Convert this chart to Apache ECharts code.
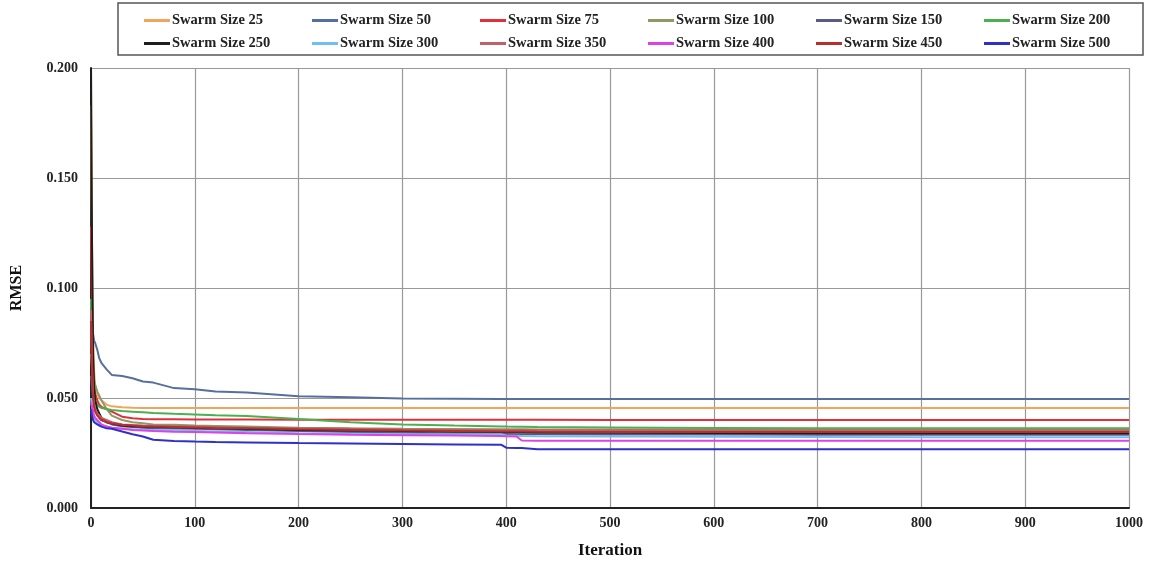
<!DOCTYPE html>
<html>
<head>
<meta charset="utf-8">
<script src="https://cdn.jsdelivr.net/npm/echarts@6/dist/echarts.min.js"></script>
<style>
    html, body {margin: 0; padding: 0; background: #fff;}
    #chart {width: 1151px; height: 564px;}
</style>
</head>
<body>
<div id="chart"></div>
<script>
// iterations shared by every series
const iterations = [0, 1, 2, 3, 4, 6, 8, 10, 15, 20, 30, 40, 50, 60, 80, 100, 120, 150, 200, 250, 300, 350, 395, 400, 410, 415, 430, 500, 600, 700, 800, 900, 1000]

const swarm25 = [0.183, 0.12, 0.08, 0.062, 0.056, 0.052, 0.050, 0.049, 0.047, 0.0462, 0.0458, 0.0456, 0.0455, 0.0455, 0.0455, 0.0455, 0.0455, 0.0455, 0.0455, 0.0455, 0.0455, 0.0455, 0.0455, 0.0455, 0.0455, 0.0455, 0.0455, 0.0455, 0.0454, 0.0454, 0.0454, 0.0454, 0.0454]
const swarm50 = [0.095, 0.085, 0.079, 0.076, 0.075, 0.072, 0.068, 0.066, 0.063, 0.0605, 0.060, 0.059, 0.0575, 0.057, 0.0545, 0.054, 0.053, 0.0525, 0.0508, 0.0503, 0.0498, 0.0497, 0.0496, 0.0496, 0.0496, 0.0496, 0.0496, 0.0496, 0.0496, 0.0496, 0.0496, 0.0496, 0.0496]
const swarm75 = [0.128, 0.09, 0.065, 0.055, 0.052, 0.049, 0.047, 0.046, 0.045, 0.0438, 0.0415, 0.0408, 0.0405, 0.0403, 0.0403, 0.0402, 0.0402, 0.0402, 0.0401, 0.0401, 0.0401, 0.0401, 0.0401, 0.0401, 0.0401, 0.0401, 0.0401, 0.0400, 0.0400, 0.0400, 0.0400, 0.0400, 0.0400]
const swarm100 = [0.07, 0.064, 0.060, 0.058, 0.056, 0.053, 0.051, 0.049, 0.045, 0.042, 0.040, 0.039, 0.0385, 0.038, 0.0378, 0.0375, 0.0373, 0.037, 0.0365, 0.0362, 0.036, 0.0359, 0.0358, 0.0358, 0.0358, 0.0358, 0.0357, 0.0357, 0.0357, 0.0356, 0.0356, 0.0356, 0.0356]
const swarm150 = [0.06, 0.055, 0.05, 0.047, 0.045, 0.043, 0.041, 0.040, 0.039, 0.038, 0.0372, 0.0368, 0.0365, 0.0363, 0.0361, 0.036, 0.0358, 0.0355, 0.035, 0.0346, 0.0342, 0.0339, 0.0336, 0.0336, 0.0335, 0.0335, 0.0335, 0.0334, 0.0334, 0.0333, 0.0333, 0.0333, 0.0333]
const swarm200 = [0.095, 0.07, 0.058, 0.052, 0.049, 0.047, 0.046, 0.0455, 0.045, 0.0445, 0.0441, 0.0438, 0.0435, 0.0432, 0.0428, 0.0425, 0.0422, 0.0418, 0.0405, 0.039, 0.038, 0.0375, 0.0371, 0.037, 0.0369, 0.0369, 0.0368, 0.0366, 0.0364, 0.0363, 0.0362, 0.0362, 0.0362]
const swarm250 = [0.2, 0.12, 0.07, 0.055, 0.049, 0.045, 0.043, 0.041, 0.039, 0.0385, 0.0375, 0.0372, 0.037, 0.0369, 0.0367, 0.0365, 0.0363, 0.036, 0.0355, 0.0352, 0.035, 0.0347, 0.0345, 0.0345, 0.0344, 0.0344, 0.0343, 0.0342, 0.0341, 0.034, 0.034, 0.034, 0.034]
const swarm300 = [0.05, 0.046, 0.043, 0.041, 0.040, 0.039, 0.038, 0.0375, 0.037, 0.0365, 0.036, 0.0358, 0.0355, 0.0354, 0.0352, 0.035, 0.0348, 0.0345, 0.034, 0.0338, 0.0335, 0.0335, 0.0335, 0.033, 0.0328, 0.0327, 0.0326, 0.0325, 0.0324, 0.0323, 0.0322, 0.0322, 0.0322]
const swarm350 = [0.09, 0.065, 0.052, 0.047, 0.045, 0.043, 0.042, 0.041, 0.040, 0.039, 0.038, 0.0377, 0.0375, 0.0374, 0.0372, 0.037, 0.0368, 0.0365, 0.0362, 0.036, 0.0357, 0.0355, 0.0354, 0.0354, 0.0354, 0.0354, 0.0353, 0.0353, 0.0352, 0.0352, 0.0352, 0.0352, 0.0352]
const swarm400 = [0.048, 0.046, 0.044, 0.042, 0.041, 0.040, 0.039, 0.038, 0.037, 0.0365, 0.036, 0.0355, 0.0352, 0.035, 0.0347, 0.0345, 0.0343, 0.034, 0.0336, 0.0333, 0.0331, 0.0329, 0.0327, 0.0326, 0.0325, 0.0307, 0.0306, 0.0306, 0.0306, 0.0306, 0.0306, 0.0306, 0.0306]
const swarm450 = [0.085, 0.06, 0.05, 0.046, 0.044, 0.042, 0.041, 0.040, 0.039, 0.0385, 0.0378, 0.0375, 0.0372, 0.037, 0.0368, 0.0366, 0.0364, 0.0362, 0.0358, 0.0355, 0.0352, 0.035, 0.0348, 0.0348, 0.0348, 0.0348, 0.0347, 0.0346, 0.0346, 0.0345, 0.0345, 0.0345, 0.0345]
const swarm500 = [0.045, 0.042, 0.040, 0.039, 0.0385, 0.038, 0.0375, 0.037, 0.0362, 0.036, 0.0348, 0.0335, 0.0325, 0.031, 0.0305, 0.0302, 0.030, 0.0298, 0.0295, 0.0293, 0.0291, 0.0289, 0.0288, 0.0274, 0.0273, 0.0273, 0.0267, 0.0267, 0.0267, 0.0267, 0.0267, 0.0267, 0.0267]

const seriesNames = ['Swarm Size 25', 'Swarm Size 50', 'Swarm Size 75', 'Swarm Size 100', 'Swarm Size 150', 'Swarm Size 200',
    'Swarm Size 250', 'Swarm Size 300', 'Swarm Size 350', 'Swarm Size 400', 'Swarm Size 450', 'Swarm Size 500']
const seriesValues = [swarm25, swarm50, swarm75, swarm100, swarm150, swarm200, swarm250, swarm300, swarm350, swarm400, swarm450, swarm500]
const seriesColors = ['#F2A55A', '#56709E', '#E0303A', '#8E9A66', '#5A5A86', '#4CAF50',
    '#1E1E1E', '#6EC0F0', '#C06068', '#E040E8', '#B82E2E', '#2E30C8']

const yTicks = [0, 0.05, 0.1, 0.15, 0.2]

const font = 'Liberation Serif'
const chart = echarts.init(document.getElementById('chart'))

// one legend per column so the columns line up like the original
const legendColumn = (col) => ({
    data: [seriesNames[col], seriesNames[col + 6]],
    top: 8,
    left: 139 + col * 168,
    orient: 'vertical',
    icon: 'rect',
    itemWidth: 26,
    itemHeight: 3,
    itemGap: 8,
    selectedMode: false,
    textStyle: {
        fontFamily: font,
        fontWeight: 'bold',
        fontSize: 14.5,
        color: '#222',
        padding: [0, 0, 0, -3]
    }
})

const option = {
    backgroundColor: '#fff',
    animation: false,
    color: seriesColors,
    graphic: [{
        type: 'rect',
        shape: {x: 118, y: 3, width: 1025, height: 52},
        style: {fill: 'none', stroke: '#555', lineWidth: 1.5},
        z: -1
    }],
    legend: [0, 1, 2, 3, 4, 5].map(legendColumn),
    grid: {left: 91, right: 22, top: 68, bottom: 56},
    xAxis: {
        type: 'value',
        min: 0,
        max: 1000,
        interval: 100,
        name: 'Iteration',
        nameLocation: 'middle',
        nameGap: 34,
        nameTextStyle: {fontFamily: font, fontWeight: 'bold', fontSize: 17, color: '#111'},
        axisLine: {lineStyle: {color: '#222', width: 2}},
        axisTick: {show: false},
        axisLabel: {
            fontFamily: font, fontWeight: 'bold', fontSize: 14, color: '#222', margin: 8,
            formatter: v => String(v)
        },
        splitLine: {lineStyle: {color: '#999', width: 1.2}}
    },
    yAxis: {
        type: 'value',
        min: yTicks[0],
        max: yTicks[yTicks.length - 1],
        interval: 0.05,
        name: 'RMSE',
        nameLocation: 'middle',
        nameGap: 66,
        nameTextStyle: {fontFamily: font, fontWeight: 'bold', fontSize: 16, color: '#111'},
        axisLine: {show: true, lineStyle: {color: '#222', width: 2}},
        axisTick: {show: false},
        axisLabel: {
            fontFamily: font, fontWeight: 'bold', fontSize: 14, color: '#222', margin: 13,
            formatter: v => v.toFixed(3)
        },
        splitLine: {lineStyle: {color: '#999', width: 1.2}}
    },
    series: seriesNames.map((name, i) => ({
        name: name,
        type: 'line',
        showSymbol: false,
        symbol: 'none',
        lineStyle: {width: 2},
        data: iterations.map((it, j) => [it, seriesValues[i][j]])
    }))
}

chart.setOption(option)
</script>
</body>
</html>
